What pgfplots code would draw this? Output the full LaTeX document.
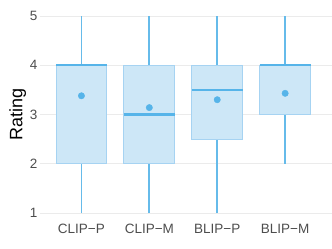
\documentclass[border=0pt]{standalone}
\usepackage{fontspec}
\setmainfont{Liberation Sans}
\usepackage{pgfplots}
\pgfplotsset{compat=1.18}
\usepgfplotslibrary{statistics}
\usetikzlibrary{calc}
\definecolor{boxfill}{HTML}{CDE7F7}
\definecolor{boxedge}{HTML}{A6D3F2}
\definecolor{med}{HTML}{56B4E9}
\definecolor{whisk}{HTML}{66BBEA}
\definecolor{gridc}{HTML}{EBEBEB}
\definecolor{tickc}{HTML}{4D4D4D}
\pgfplotsset{
  mybox/.style={draw=boxedge, fill=boxfill, line width=0.8pt,
    boxplot/every whisker/.style={draw=none},
    boxplot/every median/.style={draw=med, line width=2.2pt}},
  mywhisk/.style={color=whisk, line width=1.8pt, mark=none},
}
\begin{document}
\begin{tikzpicture}
\begin{axis}[
  scale only axis,
  width=292pt, height=197pt,
  xmin=-0.61, xmax=3.69,
  ymin=1, ymax=5,
  enlarge y limits=false,
  axis line style={draw=none},
  ytick={1,2,3,4,5},
  xtick={0,1,2,3},
  xticklabels={CLIP−P,CLIP−M,BLIP−P,BLIP−M},
  ymajorgrids,
  grid style={gridc, line width=0.8pt},
  major tick length=3pt,
  ytick style={draw=gridc, line width=0.8pt},
  xtick style={draw=none},
  ticklabel style={font=\fontsize{13.5}{15}\selectfont, text=tickc},
  xticklabel style={yshift=-8pt},
  yticklabel style={xshift=1pt},
  /pgf/number format/assume math mode=true,
  ylabel={Rating},
  ylabel style={font=\fontsize{18}{20}\selectfont, yshift=-3pt},
  clip=false,
  boxplot/draw direction=y,
  boxplot/box extend=0.75,
]
% whiskers (drawn first, boxes cover their inner ends)
\addplot[mywhisk] coordinates {(0,1) (0,2.1)};
\addplot[mywhisk] coordinates {(0,3.9) (0,5)};
\addplot[mywhisk] coordinates {(1,1) (1,2.1)};
\addplot[mywhisk] coordinates {(1,3.9) (1,5)};
\addplot[mywhisk] coordinates {(2,1) (2,2.6)};
\addplot[mywhisk] coordinates {(2,3.9) (2,5)};
\addplot[mywhisk] coordinates {(3,2) (3,3.1)};
\addplot[mywhisk] coordinates {(3,3.9) (3,5)};
% boxes
\addplot[mybox,
  boxplot prepared={draw position=0, lower whisker=2, lower quartile=2, median=4, upper quartile=4, upper whisker=4}] coordinates {};
\addplot[mybox,
  boxplot prepared={draw position=1, lower whisker=2, lower quartile=2, median=3, upper quartile=4, upper whisker=4}] coordinates {};
\addplot[mybox,
  boxplot prepared={draw position=2, lower whisker=2.5, lower quartile=2.5, median=3.5, upper quartile=4, upper whisker=4}] coordinates {};
\addplot[mybox,
  boxplot prepared={draw position=3, lower whisker=3, lower quartile=3, median=4, upper quartile=4, upper whisker=4}] coordinates {};
% means
\addplot[only marks, mark=*, mark size=3.2pt, color=med] coordinates {
  (0,3.38) (1,3.14) (2,3.30) (3,3.43)};
\end{axis}
\pgfresetboundingbox
\path ($(current axis.south west)+(-40pt,-36pt)$) rectangle ($(current axis.north east)+(0pt,16pt)$);
\end{tikzpicture}
\end{document}
